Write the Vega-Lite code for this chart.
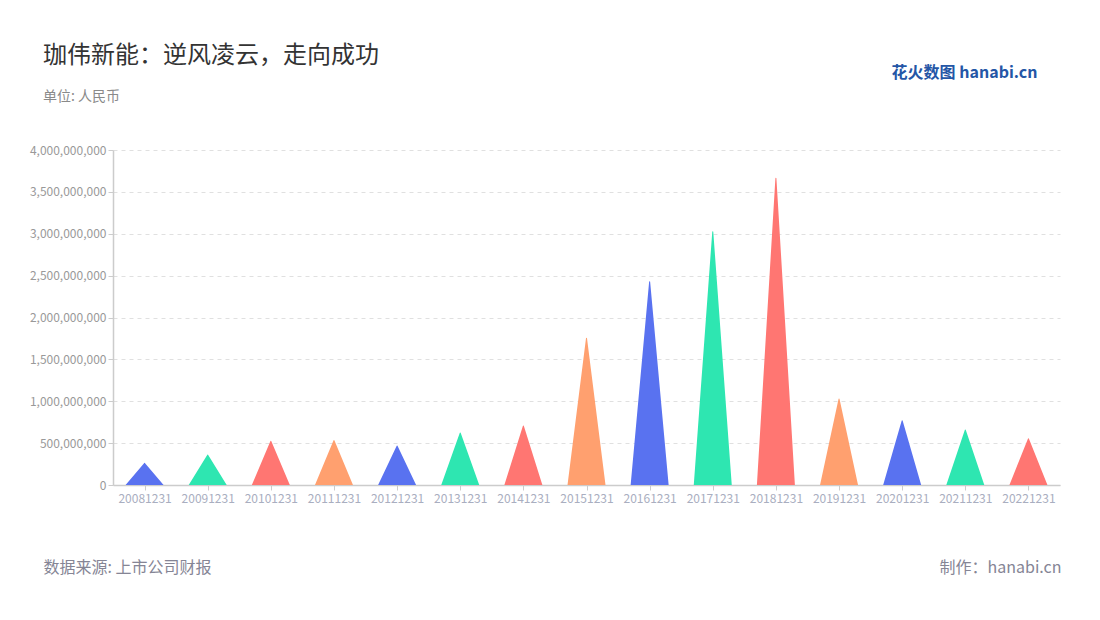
{
  "$schema": "https://vega.github.io/schema/vega-lite/v6.json",
  "width": 947,
  "height": 335,
  "autosize": {"type": "none"},
  "padding": {"left": 113, "top": 150, "right": 40, "bottom": 135},
  "background": "#ffffff",
  "config": {
    "font": "Noto Sans CJK SC",
    "view": {"stroke": null}
  },
  "title": {
    "text": "珈伟新能：逆风凌云，走向成功",
    "subtitle": "单位: 人民币",
    "anchor": "start",
    "frame": "group",
    "dx": -70,
    "offset": -40,
    "fontSize": 24,
    "fontWeight": "normal",
    "color": "#333333",
    "subtitleFontSize": 14,
    "subtitleColor": "#8a8a8a",
    "subtitlePadding": 22
  },
  "data": {
    "values": [
      {"date": "20081231", "value": 259000000},
      {"date": "20091231", "value": 358000000},
      {"date": "20101231", "value": 522000000},
      {"date": "20111231", "value": 530000000},
      {"date": "20121231", "value": 465000000},
      {"date": "20131231", "value": 620000000},
      {"date": "20141231", "value": 705000000},
      {"date": "20151231", "value": 1752000000},
      {"date": "20161231", "value": 2428000000},
      {"date": "20171231", "value": 3025000000},
      {"date": "20181231", "value": 3662000000},
      {"date": "20191231", "value": 1027000000},
      {"date": "20201231", "value": 768000000},
      {"date": "20211231", "value": 657000000},
      {"date": "20221231", "value": 553000000}
    ]
  },
  "transform": [
    {"fold": ["value"], "as": ["part", "amount"]},
    {"impute": "amount", "key": "part", "keyvals": ["base", "value"], "groupby": ["date"], "value": 0}
  ],
  "layer": [
    {
      "mark": {"type": "trail", "clip": true},
      "encoding": {
        "x": {
          "field": "date",
          "type": "ordinal",
          "scale": {"type": "point", "padding": 0.5},
          "axis": {
            "labelAngle": 0,
            "labelFontSize": 12,
            "labelColor": "#a9aec0",
            "labelPadding": 3,
            "tickColor": "#cccccc",
            "tickSize": 5,
            "domainColor": "#cccccc",
            "domainWidth": 1.5,
            "grid": false,
            "title": "数据来源: 上市公司财报",
            "titleFontSize": 16,
            "titleFontWeight": "normal",
            "titleColor": "#858595",
            "titleAlign": "left",
            "titleBaseline": "middle",
            "titleAnchor": "start",
            "titleX": -70,
            "titleY": 82
          }
        },
        "y": {
          "field": "amount",
          "type": "quantitative",
          "scale": {"domain": [0, 4000000000], "nice": false},
          "axis": {
            "values": [0, 500000000, 1000000000, 1500000000, 2000000000, 2500000000, 3000000000, 3500000000, 4000000000],
            "format": ",.0f",
            "labelFontSize": 12,
            "labelColor": "#999999",
            "labelPadding": 2,
            "tickColor": "#cccccc",
            "tickSize": 5,
            "domainColor": "#cccccc",
            "domainWidth": 1.5,
            "grid": true,
            "gridColor": "#e0e0e0",
            "gridDash": [4, 4],
            "title": "制作：hanabi.cn",
            "titleAngle": 0,
            "titleFontSize": 16,
            "titleFontWeight": "normal",
            "titleColor": "#858595",
            "titleAlign": "right",
            "titleBaseline": "middle",
            "titleX": 948,
            "titleY": 417
          }
        },
        "size": {
          "field": "part",
          "type": "nominal",
          "scale": {"type": "ordinal", "domain": ["base", "value"], "range": [38, 0]},
          "legend": null
        },
        "color": {
          "field": "date",
          "type": "nominal",
          "scale": {
            "domain": ["20081231","20091231","20101231","20111231","20121231","20131231","20141231","20151231","20161231","20171231","20181231","20191231","20201231","20211231","20221231"],
            "range": ["#5972F0","#2EE6B1","#FF7672","#FFA06F","#5972F0","#2EE6B1","#FF7672","#FFA06F","#5972F0","#2EE6B1","#FF7672","#FFA06F","#5972F0","#2EE6B1","#FF7672"]
          },
          "legend": null
        },
        "order": {"field": "amount", "type": "quantitative"}
      }
    },
    {
      "mark": {"type": "rule", "opacity": 0},
      "encoding": {
        "y": {
          "datum": 0,
          "type": "quantitative",
          "scale": {"domain": [0, 1]},
          "axis": {
            "orient": "right",
            "labels": false,
            "ticks": false,
            "domain": false,
            "grid": false,
            "title": "花火数图 hanabi.cn",
            "titleAngle": 0,
            "titleFontSize": 16,
            "titleFontWeight": "bold",
            "titleColor": "#2456a6",
            "titleAlign": "right",
            "titleBaseline": "middle",
            "titleX": -23,
            "titleY": -78
          }
        }
      }
    }
  ],
  "resolve": {"scale": {"y": "independent"}, "axis": {"y": "independent"}}
}
